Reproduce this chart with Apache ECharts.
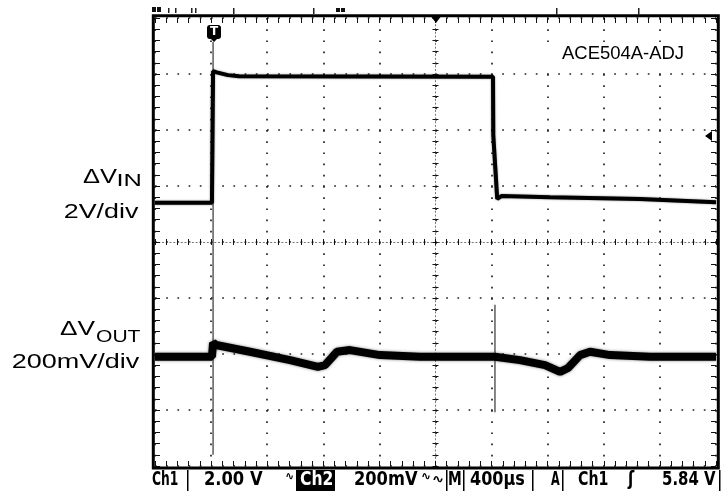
<!DOCTYPE html>
<html>
<head>
<meta charset="utf-8">
<script src="https://cdn.jsdelivr.net/npm/echarts/dist/echarts.min.js"></script>
<style>
html, body { margin: 0; padding: 0; background: #fff; }
#scope { width: 728px; height: 491px; }
</style>
</head>
<body>
<div id="scope"></div>
<script>
// time in µs (400 µs/div, screen centre = 0), levels in screen divisions (centre line = 0)
var vinTime  = [-2000, -1594, -1586, -1560, -1480, -1400, 410, 412, 440, 470, 816, 1458, 2000];
var vinLevel = [0.70, 0.70, 3.05, 3.03, 2.98, 2.96, 2.95, 1.91, 0.77, 0.82, 0.80, 0.77, 0.71];

var voutTime  = [-2000, -1594, -1586, -1565, -1323, -1037, -838, -788, -702, -610, -396, -111, 424, 438, 602, 781, 888, 945, 1031, 1102, 1245, 1530, 2000];
var voutLevel = [-2.05, -2.05, -1.80, -1.84, -1.96, -2.11, -2.23, -2.20, -1.96, -1.93, -2.02, -2.05, -2.05, -2.02, -2.11, -2.20, -2.32, -2.25, -2.02, -1.96, -2.02, -2.05, -2.05];

// switching spikes (thin lines)
var riseSpikeTime  = [-1586, -1586];
var riseSpikeLevel = [3.57, -3.80];
var fallSpikeTime  = [424, 424];
var fallSpikeLevel = [-1.12, -3.04];

var X_MIN = -2000, X_MAX = 2000, X_STEP = 400;
var Y_MIN = -4, Y_MAX = 4, Y_STEP = 1;

function pairs(t, v) {
  return t.map(function (x, i) { return [x, v[i]]; });
}

// fit a text's ink box between x0 and x1, centred on yc
var measureCtx = document.createElement('canvas').getContext('2d');
function fitText(text, font, x0, x1, yc, sy, fill) {
  measureCtx.font = font;
  var m = measureCtx.measureText(text);
  var ink = m.actualBoundingBoxLeft + m.actualBoundingBoxRight;
  var sx = (x1 - x0) / ink;
  return {
    type: 'text', z: 100,
    x: x0 + m.actualBoundingBoxLeft * sx, y: yc,
    scaleX: sx, scaleY: sy || 1,
    style: { text: text, font: font, fill: fill || '#000', textAlign: 'left', textVerticalAlign: 'middle' }
  };
}

function axis(kind, pos, onZero, inside, len) {
  return {
    type: 'value', position: pos,
    min: kind === 'x' ? X_MIN : Y_MIN,
    max: kind === 'x' ? X_MAX : Y_MAX,
    interval: kind === 'x' ? X_STEP : Y_STEP,
    axisLabel: { show: false },
    axisLine: { show: false, onZero: onZero, onZeroAxisIndex: 0 },
    axisTick: { show: true, inside: inside, length: len, lineStyle: { color: '#111', width: 1 } },
    minorTick: { show: true, splitNumber: 5, length: len, lineStyle: { color: '#111', width: 1 } },
    splitLine: { show: false }
  };
}

var dots = { show: true, lineStyle: { color: '#222', width: 1.7, type: [1.7, 9.5] } };
var fineDots = { show: true, onZero: true, onZeroAxisIndex: 0, lineStyle: { color: '#777', width: 1, type: [1.2, 2.53] } };

var xCentre = axis('x', 'bottom', true, false, 3);
xCentre.splitLine = dots;
xCentre.axisLine = fineDots;
var yCentre = axis('y', 'left', true, false, 3);
yCentre.splitLine = dots;
yCentre.axisLine = fineDots;

var labelFont = '21px "Liberation Sans"';
var subFont = '17px "Liberation Sans"';
var barFont = 'bold 15px "DejaVu Sans"';
var symFont = 'bold 12px "DejaVu Sans"';

var statusY = 480, statusSY = 1.3;

var graphics = [
  // screen frame
  { type: 'rect', z: 1, shape: { x: 153.3, y: 15.8, width: 565, height: 452.2 }, style: { fill: null, stroke: '#000', lineWidth: 3 } },

  // cut-off header of the scope screen
  { type: 'rect', z: 100, shape: { x: 152, y: 7, width: 4, height: 5 }, style: { fill: '#111' } },
  { type: 'rect', z: 100, shape: { x: 157, y: 7, width: 4, height: 5 }, style: { fill: '#111' } },
  { type: 'rect', z: 100, shape: { x: 168, y: 8, width: 1.5, height: 5 }, style: { fill: '#222' } },
  { type: 'rect', z: 100, shape: { x: 175, y: 8, width: 1.5, height: 5 }, style: { fill: '#222' } },
  { type: 'rect', z: 100, shape: { x: 191, y: 8, width: 1.5, height: 5 }, style: { fill: '#222' } },
  { type: 'rect', z: 100, shape: { x: 195, y: 8, width: 1.5, height: 5 }, style: { fill: '#222' } },
  { type: 'rect', z: 100, shape: { x: 233, y: 8, width: 1.5, height: 6 }, style: { fill: '#222' } },
  { type: 'rect', z: 100, shape: { x: 313, y: 8, width: 1.5, height: 6 }, style: { fill: '#222' } },
  { type: 'rect', z: 100, shape: { x: 336, y: 8, width: 4, height: 4 }, style: { fill: '#111' } },
  { type: 'rect', z: 100, shape: { x: 341, y: 8, width: 4, height: 4 }, style: { fill: '#111' } },
  { type: 'rect', z: 100, shape: { x: 556, y: 8, width: 1.5, height: 7 }, style: { fill: '#222' } },
  { type: 'rect', z: 100, shape: { x: 638, y: 8, width: 1.5, height: 7 }, style: { fill: '#222' } },

  // trigger marker "T"
  { type: 'rect', z: 100, shape: { x: 207, y: 25, width: 14, height: 14, r: 3 }, style: { fill: '#000' } },
  { type: 'polygon', z: 100, shape: { points: [[210, 38], [218, 38], [214, 42]] }, style: { fill: '#000' } },
  { type: 'text', z: 101, x: 214, y: 32, style: { text: 'T', font: 'bold 12px "DejaVu Sans"', fill: '#fff', textAlign: 'center', textVerticalAlign: 'middle' } },
  // horizontal position marker and trigger level marker
  { type: 'polygon', z: 100, shape: { points: [[430, 15], [442, 15], [436, 23]] }, style: { fill: '#000' } },
  { type: 'polygon', z: 100, shape: { points: [[705, 136], [712, 131], [712, 141]] }, style: { fill: '#000' } },

  // part label
  { type: 'rect', z: 99, shape: { x: 527, y: 42, width: 175, height: 29 }, style: { fill: '#fff' } },
  fitText('ACE504A-ADJ', '18px "Liberation Sans"', 562, 683, 54.5),

  // channel labels
  fitText('ΔV', labelFont, 83, 117, 177),
  fitText('IN', subFont, 118, 140, 181),
  fitText('2V/div', labelFont, 65, 139, 212.5),
  fitText('ΔV', labelFont, 60, 95, 329.5),
  fitText('OUT', subFont, 96, 140, 337.5),
  fitText('200mV/div', labelFont, 13, 140, 362),

  // status bar
  fitText('Ch1', barFont, 152, 178, statusY, statusSY),
  { type: 'rect', z: 100, shape: { x: 187, y: 470, width: 1.5, height: 21 }, style: { fill: '#000' } },
  fitText('2.00 V', barFont, 205, 263, statusY, statusSY),
  fitText('∿', symFont, 286, 293, statusY - 3, 1),
  { type: 'rect', z: 100, shape: { x: 296, y: 470, width: 39, height: 21 }, style: { fill: '#000' } },
  fitText('Ch2', barFont, 300, 333, statusY, statusSY, '#fff'),
  fitText('200mV', barFont, 355, 418, statusY, statusSY),
  fitText('∿', symFont, 422, 430, statusY - 3, 1),
  fitText('∿', symFont, 433, 443, statusY, 1),
  { type: 'rect', z: 100, shape: { x: 446, y: 470, width: 1.5, height: 21 }, style: { fill: '#000' } },
  fitText('M', barFont, 449, 461, statusY, statusSY),
  { type: 'rect', z: 100, shape: { x: 463, y: 470, width: 1.5, height: 21 }, style: { fill: '#000' } },
  fitText('400µs', barFont, 470, 525, statusY, statusSY),
  { type: 'rect', z: 100, shape: { x: 532, y: 470, width: 1.5, height: 21 }, style: { fill: '#000' } },
  fitText('A', barFont, 551, 560, statusY, statusSY),
  { type: 'rect', z: 100, shape: { x: 562, y: 470, width: 1.5, height: 21 }, style: { fill: '#000' } },
  fitText('Ch1', barFont, 578, 608, statusY, statusSY),
  fitText('ʃ', barFont, 627, 635, statusY, statusSY),
  fitText('5.84 V', barFont, 663, 716, statusY, statusSY),
  { type: 'rect', z: 100, shape: { x: 719, y: 470, width: 1.5, height: 21 }, style: { fill: '#000' } }
];

var chart = echarts.init(document.getElementById('scope'), null, { renderer: 'canvas' });
chart.setOption({
  animation: false,
  backgroundColor: '#fff',
  grid: {
    left: 155, top: 18, width: 561, height: 448,
    show: false
  },
  xAxis: [
    xCentre,
    axis('x', 'top', true, false, 3),
    axis('x', 'bottom', false, true, 5),
    axis('x', 'top', false, true, 5)
  ],
  yAxis: [
    yCentre,
    axis('y', 'right', true, false, 3),
    axis('y', 'left', false, true, 5),
    axis('y', 'right', false, true, 5)
  ],
  series: [
    {
      name: 'Vin', type: 'line', data: pairs(vinTime, vinLevel),
      showSymbol: false, z: 5,
      lineStyle: { color: '#000', width: 4, shadowBlur: 2, shadowColor: 'rgba(0,0,0,0.5)' }
    },
    {
      name: 'Vout', type: 'line', data: pairs(voutTime, voutLevel),
      showSymbol: false, z: 5,
      lineStyle: { color: '#000', width: 8, shadowBlur: 3, shadowColor: 'rgba(0,0,0,0.5)' }
    },
    {
      name: 'rise spike', type: 'line', data: pairs(riseSpikeTime, riseSpikeLevel),
      showSymbol: false, z: 4,
      lineStyle: { color: '#333', width: 1.2 }
    },
    {
      name: 'fall spike', type: 'line', data: pairs(fallSpikeTime, fallSpikeLevel),
      showSymbol: false, z: 4,
      lineStyle: { color: '#333', width: 1.2 }
    }
  ],
  graphic: graphics
});
</script>
</body>
</html>
